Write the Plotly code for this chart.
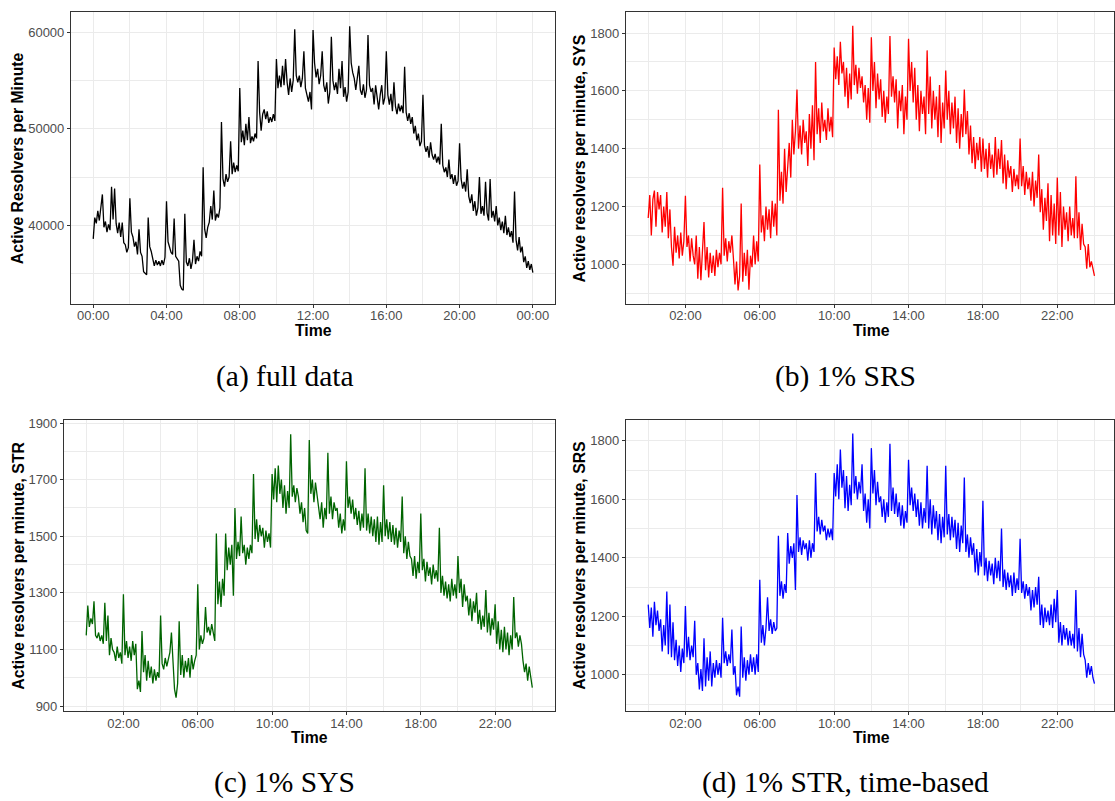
import plotly.graph_objects as go

W, H = 1115, 801

# time of day in minutes, one reading every 5 minutes (00:00 .. 24:00)
minutes = list(range(0, 1441, 5))

full_data = [
    38600, 40800, 40200, 41500, 40500, 41600, 43200, 39800, 40400, 39300, 40100, 39500,
    44000, 40600, 43800, 40200, 39200, 40300, 38800, 40300, 38200, 38000, 37200, 37700,
    42800, 39300, 38800, 37800, 38300, 37000, 39600, 37200, 36800, 35200, 35000, 34900,
    40800, 37800, 37300, 36500, 35800, 36400, 35900, 36300, 35800, 36400, 35900, 36700,
    42500, 38300, 37600, 37200, 37000, 40700, 36800, 36500, 36300, 33800, 33400, 33300,
    41200, 36200, 35800, 36600, 35500, 36300, 38500, 36000, 36800, 36300, 37300, 36800,
    46000, 39600, 38700, 39800, 40300, 42000, 40600, 43600, 40500, 41200, 40800, 41800,
    50700, 44800, 44000, 45300, 44500, 45000, 48700, 45300, 46500, 45500, 46200, 45600,
    54200, 48600, 49800, 48300, 50500, 48800, 51200, 48500, 49200, 48700, 49500, 49000,
    57000, 51700, 49800, 51500, 52000, 51000, 51800, 50600, 51200, 50700, 51500, 50800,
    57200, 54200, 55500, 54300, 56500, 54500, 57200, 54800, 53500, 55200, 53800, 55000,
    60300, 55500, 54800, 55500, 54300, 55200, 58000, 54200, 53500, 52800, 53800, 52000,
    60200, 56800, 55300, 56200, 54600, 55500, 58000, 54500, 53800, 54800, 52600, 53800,
    59500, 55000, 54000, 54800, 53600, 56200, 54200, 57000, 53300, 54300, 52800, 53800,
    60600, 56800, 55800, 55200, 54000, 55000, 56500, 54000, 53500, 54600, 53200, 54000,
    59700, 54500, 53800, 54200, 52500, 54500, 53000, 52000, 53500, 54500, 52500, 53200,
    58000, 53500, 52500, 53600, 51800, 54800, 52300, 51500, 52600, 51800, 52400, 51600,
    56400, 51700, 50800, 51600, 50500, 51200, 49500, 50300, 48800, 49500, 48200, 48700,
    53500, 48300, 47600, 48200, 47000, 48600, 47300, 46800, 47400, 46500, 47100, 46300,
    50500, 46200, 45500, 46000, 45000, 46800, 44800, 45300, 44300, 45200, 44100, 44600,
    48500, 44800, 43800, 44500, 43500, 45800, 43000, 42300, 43200, 41500, 42500, 41000,
    41800, 45000, 41200, 42000, 41000, 44500, 41300, 40500, 44800, 40800, 41500, 40400,
    42000, 40000, 40800, 39500, 40400, 39200, 41000, 39000, 39800, 38800, 39400, 38200,
    43500, 38500, 37400, 38800, 37200, 37800, 36200, 36800, 35600, 36300, 35400, 36000,
    35100,
]

sys_sample = [
    1160, 1240, 1100, 1225, 1255, 1130, 1250, 1190, 1240, 1110, 1200, 1130,
    1250, 1090, 1190, 1060, 995, 1130, 1040, 1100, 1020, 1110, 1030, 1080,
    1237, 1060, 1100, 1010, 1090, 1030, 1000, 1100, 950, 1060, 945, 1030,
    1146, 980, 1060, 955, 1040, 970, 1030, 960, 1050, 990, 1040, 1000,
    1265, 1030, 1090, 1010, 1080, 1040, 1100, 1020, 930, 1010, 910, 960,
    1210, 940, 1040, 960, 1050, 912, 1030, 990, 1100, 1000, 1080, 1010,
    1345, 1110, 1170, 1080, 1200, 1120, 1190, 1090, 1220, 1130, 1210, 1100,
    1535, 1220, 1320, 1210, 1400, 1250, 1330, 1420, 1300, 1500, 1380, 1460,
    1605, 1400, 1480, 1380, 1500, 1420, 1460, 1340, 1520, 1400, 1550, 1360,
    1700, 1450, 1540, 1420, 1560, 1460, 1500, 1430, 1540, 1460, 1510, 1440,
    1750, 1640, 1720, 1620, 1770, 1660, 1700, 1580, 1680, 1540, 1660, 1570,
    1825, 1620, 1690, 1590, 1680, 1610, 1650, 1560, 1620, 1500, 1610, 1490,
    1785, 1600, 1700, 1540, 1660, 1570, 1640, 1510, 1600, 1490, 1580, 1520,
    1790, 1580, 1650, 1560, 1640, 1470, 1600, 1530, 1620, 1450, 1580, 1500,
    1780, 1600, 1700, 1560, 1680, 1500, 1620, 1460, 1600, 1520, 1580, 1450,
    1740, 1520, 1650, 1470, 1600, 1500, 1580, 1440, 1620, 1420, 1560, 1470,
    1670, 1500, 1600, 1450, 1560, 1470, 1580, 1420, 1540, 1400, 1520, 1440,
    1605, 1450, 1530, 1380, 1480, 1350, 1440, 1330, 1420, 1360, 1440, 1320,
    1435, 1330, 1400, 1300, 1420, 1330, 1380, 1300, 1440, 1310, 1400, 1330,
    1430, 1280, 1380, 1260, 1360, 1300, 1340, 1250, 1330, 1270, 1310, 1260,
    1435, 1270, 1340, 1240, 1320, 1260, 1300, 1220, 1320, 1200, 1290, 1230,
    1380, 1180, 1260, 1120, 1230, 1150, 1280, 1080, 1240, 1100, 1210, 1070,
    1300, 1100, 1250, 1060, 1200, 1120, 1180, 1080, 1200, 1100, 1160, 1090,
    1305, 1090, 1180, 1050, 1140, 1070, 1060, 985, 1070, 990, 1010, 980,
    960,
]

str_sample = [
    1150, 1255, 1180, 1210, 1190, 1270, 1150, 1140, 1160, 1130, 1150, 1120,
    1265, 1130, 1220, 1080, 1140, 1100, 1090, 1060, 1110, 1070, 1090, 1050,
    1295, 1080, 1130, 1070, 1110, 1060, 1130, 1080, 1120, 960, 990, 950,
    1165, 1020, 1080, 990, 1060, 1000, 1040, 980, 1030, 990, 1020, 1000,
    1220, 1050, 1030, 1070, 1040, 1060, 1090, 1160, 1040, 960, 930, 980,
    1200, 1010, 1080, 1000, 1060, 1020, 1070, 1000, 1080, 1030, 1060, 1080,
    1330, 1100, 1150, 1120, 1140, 1250, 1160, 1180, 1150, 1190, 1160, 1130,
    1510, 1260, 1340, 1250, 1350, 1290, 1510, 1380, 1460, 1400, 1470, 1290,
    1600, 1420, 1480, 1430, 1570, 1440, 1470, 1400, 1460, 1420, 1470, 1440,
    1720, 1490, 1560, 1480, 1540, 1500, 1530, 1460, 1520, 1480, 1510, 1460,
    1720, 1630, 1740, 1620, 1750, 1650, 1700, 1600, 1680, 1580, 1660, 1600,
    1860, 1640, 1680, 1620, 1670, 1640, 1580, 1620, 1550, 1600, 1520, 1510,
    1840, 1650, 1700, 1620, 1690, 1640, 1600, 1560, 1620, 1530, 1600, 1560,
    1795, 1580, 1640, 1560, 1620, 1590, 1600, 1530, 1580, 1510, 1560, 1520,
    1765, 1600, 1640, 1580, 1630, 1560, 1600, 1540, 1590, 1520, 1580, 1530,
    1740, 1520, 1580, 1510, 1570, 1500, 1560, 1480, 1570, 1470, 1550, 1480,
    1680, 1500, 1560, 1490, 1550, 1480, 1540, 1470, 1530, 1460, 1520, 1480,
    1640, 1440, 1500, 1420, 1480, 1430, 1420, 1360, 1430, 1350, 1410, 1370,
    1580, 1380, 1420, 1340, 1410, 1360, 1390, 1330, 1400, 1350, 1380, 1340,
    1530, 1300, 1360, 1290, 1340, 1280, 1330, 1270, 1350, 1290, 1330, 1280,
    1430, 1300, 1350, 1250, 1330, 1270, 1290, 1220, 1280, 1200, 1270, 1230,
    1300, 1190, 1240, 1170, 1220, 1180, 1310, 1160, 1230, 1150, 1210, 1170,
    1260, 1120, 1200, 1100, 1170, 1090, 1180, 1100, 1160, 1080, 1150, 1100,
    1285, 1140, 1160, 1110, 1150, 1120, 1060, 1020, 1050, 990, 1040, 1000,
    965,
]

srs_sample = [
    1240, 1160, 1230, 1130, 1250, 1170, 1220, 1150, 1190, 1080, 1170, 1100,
    1285, 1070, 1240, 1060, 1180, 1050, 1120, 1030, 1100, 1010, 1090, 1040,
    1235, 1060, 1130, 1050, 1100, 1060, 1185, 1000, 1040, 950, 1020, 945,
    1125, 960, 1060, 980, 1080, 960, 1040, 990, 1050, 1000, 1040, 990,
    1195, 1040, 1080, 1030, 1070, 1040, 1155, 1000, 1030, 930, 960, 925,
    1165, 990, 1060, 980, 1050, 1000, 1070, 1010, 1060, 1000, 1070, 1010,
    1325, 1110, 1170, 1100, 1160, 1265, 1150, 1190, 1140, 1180, 1150, 1160,
    1475, 1270, 1320, 1260, 1310, 1280, 1485, 1380, 1440, 1400, 1450, 1290,
    1615, 1420, 1470, 1410, 1460, 1430, 1450, 1390, 1460, 1400, 1450, 1420,
    1690, 1490, 1540, 1480, 1530, 1490, 1510, 1460, 1500, 1470, 1500, 1460,
    1690, 1610, 1720, 1600, 1770, 1640, 1700, 1570, 1680, 1560, 1650, 1580,
    1825, 1620, 1680, 1600, 1660, 1620, 1720, 1560, 1620, 1520, 1600, 1500,
    1775, 1620, 1700, 1580, 1660, 1590, 1610, 1540, 1600, 1520, 1590, 1540,
    1790, 1560, 1640, 1550, 1620, 1540, 1590, 1510, 1580, 1500, 1560, 1520,
    1735, 1580, 1640, 1560, 1620, 1540, 1600, 1510, 1590, 1500, 1570, 1520,
    1715, 1500, 1600, 1480, 1580, 1500, 1560, 1460, 1550, 1450, 1540, 1470,
    1715, 1480, 1550, 1460, 1540, 1470, 1530, 1430, 1520, 1420, 1510, 1450,
    1675, 1420, 1480, 1400, 1470, 1410, 1450, 1350, 1430, 1340, 1420, 1370,
    1595, 1340, 1400, 1320, 1390, 1340, 1380, 1310, 1400, 1330, 1390, 1320,
    1500, 1300, 1360, 1290, 1350, 1300, 1340, 1270, 1350, 1280, 1330, 1290,
    1465, 1280, 1320, 1260, 1310, 1270, 1300, 1220, 1290, 1230, 1300, 1240,
    1335, 1170, 1240, 1160, 1230, 1180, 1220, 1170, 1240, 1160, 1260, 1180,
    1290, 1110, 1180, 1100, 1170, 1120, 1160, 1100, 1150, 1100, 1140, 1090,
    1290, 1080, 1160, 1060, 1140, 1070, 1050, 990, 1040, 1000, 1030, 990,
    970,
]

y_titles = [
    "Active Resolvers per Minute",
    "Active resolvers per minute, SYS",
    "Active resolvers per minute, STR",
    "Active resolvers per minute, SRS",
]
captions = ["(a) full data", "(b) 1% SRS", "(c) 1% SYS", "(d) 1% STR, time-based"]
colors = ["#000000", "#FF0000", "#006400", "#0000FF"]

ticks_a = [0, 4, 8, 12, 16, 20, 24]
labels_a = ["00:00", "04:00", "08:00", "12:00", "16:00", "20:00", "00:00"]
ticks_b = [2, 6, 10, 14, 18, 22]
labels_b = ["02:00", "06:00", "10:00", "14:00", "18:00", "22:00"]

hours = [m / 60 for m in minutes]
series = [full_data, sys_sample, str_sample, srs_sample]

# panel boxes in pixels: (left, right, top, bottom)
boxes = [
    (71.0, 555.7, 8.3, 302.3),
    (626.3, 1115.0, 8.3, 302.3),
    (64.0, 555.1, 419.3, 713.3),
    (626.3, 1115.0, 419.3, 713.3),
]
xranges = [[-1.217, 25.22], [-1.209, 25.05], [-1.2, 25.2], [-1.209, 25.05]]
yranges = [[31900, 62050], [864, 1872], [882.5, 1912], [876, 1872.5]]
ymajor = [[40000, 50000, 60000], [1000, 1200, 1400, 1600, 1800],
          [900, 1100, 1300, 1500, 1700, 1900], [1000, 1200, 1400, 1600, 1800]]
yminor = [[35000, 45000, 55000], [900, 1100, 1300, 1500, 1700],
          [1000, 1200, 1400, 1600, 1800], [900, 1100, 1300, 1500, 1700]]

fig = go.Figure()
layout = {}
annotations = []
FONT = "Liberation Sans, Arial, Helvetica, sans-serif"
GRID = "#EBEBEB"

for i in range(4):
    k = "" if i == 0 else str(i + 1)
    L, R, T, B = boxes[i]
    fig.add_trace(go.Scatter(
        x=hours, y=series[i], mode="lines",
        line=dict(color=colors[i], width=1.3),
        xaxis="x" + k, yaxis="y" + k, showlegend=False, hoverinfo="skip",
    ))
    if i == 0:
        xt, xl = ticks_a, labels_a
        xminor = [2, 6, 10, 14, 18, 22]
    else:
        xt, xl = ticks_b, labels_b
        xminor = [0, 4, 8, 12, 16, 20, 24]
    common = dict(
        showline=True, linecolor="#333333", linewidth=1, mirror=True,
        ticks="outside", ticklen=3, tickwidth=1, tickcolor="#333333",
        showgrid=True, gridcolor=GRID, gridwidth=1.1, zeroline=False,
        tickfont=dict(family=FONT, size=13, color="#4D4D4D"),
    )
    layout["xaxis" + k] = dict(
        domain=[L / W, R / W], range=xranges[i], anchor="y" + k,
        tickmode="array", tickvals=xt, ticktext=xl, ticklabelstandoff=-3,
        minor=dict(tickmode="array", tickvals=xminor, showgrid=True,
                   gridcolor=GRID, gridwidth=0.6, ticklen=0),
        **common,
    )
    layout["yaxis" + k] = dict(
        domain=[1 - B / H, 1 - T / H], range=yranges[i], anchor="x" + k,
        tickmode="array", tickvals=ymajor[i], ticktext=[str(v) for v in ymajor[i]],
        minor=dict(tickmode="array", tickvals=yminor[i], showgrid=True,
                   gridcolor=GRID, gridwidth=0.6, ticklen=0),
        **common,
    )
    # y axis title
    tx = 18.3 if L < 100 else 580.0
    annotations.append(dict(
        text="<b>" + y_titles[i] + "</b>", xref="paper", yref="paper",
        x=tx / W, y=1 - (T + B) / 2 / H, textangle=-90, showarrow=False,
        xanchor="center", yanchor="middle",
        font=dict(family=FONT, size=15.8, color="#000000"),
    ))
    # x axis title
    xc = (L + (R if i in (0, 2) else 1117.8)) / 2
    annotations.append(dict(
        text="<b>Time</b>", xref="paper", yref="paper",
        x=xc / W, y=1 - (B + 27) / H, showarrow=False,
        xanchor="center", yanchor="middle",
        font=dict(family=FONT, size=15.8, color="#000000"),
    ))

cap_pos = [(285, 376), (846, 376), (285, 785), (846, 785)]
for (cx, cy), c in zip(cap_pos, captions):
    annotations.append(dict(
        text=c, xref="paper", yref="paper", x=cx / W, y=1 - cy / H,
        showarrow=False, xanchor="center", yanchor="middle",
        font=dict(family="Liberation Serif, Times New Roman, serif", size=29.5, color="#000000"),
    ))

fig.update_layout(
    width=W, height=H, margin=dict(l=0, r=0, t=0, b=0),
    paper_bgcolor="white", plot_bgcolor="white",
    annotations=annotations, **layout,
)

fig.write_html(
    "out.html",
    config={"displayModeBar": False},
    post_script="document.body.style.margin='0';document.body.style.overflow='hidden';",
)
